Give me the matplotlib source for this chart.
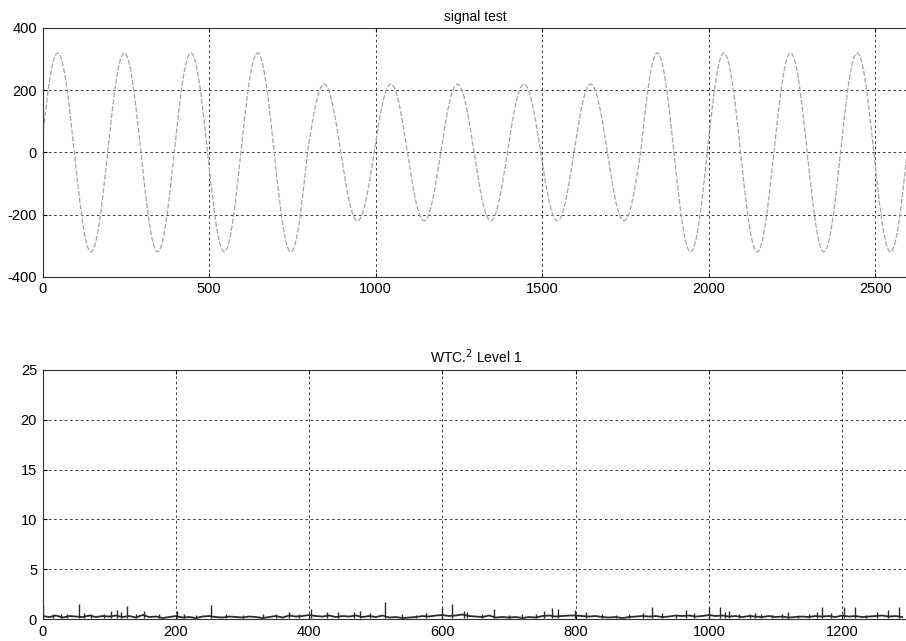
import numpy as np
import matplotlib.pyplot as plt

plt.rcParams['font.family'] = ['Liberation Sans', 'DejaVu Sans']
plt.rcParams['axes.unicode_minus'] = False

# top panel: one period (200 samples) read every 5 samples, two amplitudes
cycle_big = [50, 99, 145, 188, 226, 259, 285, 304, 316, 320,
             316, 304, 285, 259, 226, 188, 145, 99, 50, 0,
             -50, -99, -145, -188, -226, -259, -285, -304, -316, -320,
             -316, -304, -285, -259, -226, -188, -145, -99, -50, 0]
cycle_small = [34, 68, 100, 129, 156, 178, 196, 209, 217, 220,
               217, 209, 196, 178, 156, 129, 100, 68, 34, 0,
               -34, -68, -100, -129, -156, -178, -196, -209, -217, -220,
               -217, -209, -196, -178, -156, -129, -100, -68, -34, 0]
cycle_order = ['big'] * 4 + ['small'] * 5 + ['big'] * 4
signal_step = 5

# bottom panel: squared level-1 detail coefficients
wtc_step = 10
wtc_base = [
    0.3, 0.2, 0.35, 0.15, 0.3, 0.25, 0.2, 0.35, 0.2, 0.3,
    0.25, 0.35, 0.2, 0.3, 0.15, 0.4, 0.2, 0.25, 0.1, 0.2,
    0.3, 0.15, 0.2, 0.1, 0.25, 0.3, 0.2, 0.15, 0.25, 0.2,
    0.15, 0.25, 0.2, 0.1, 0.2, 0.3, 0.15, 0.35, 0.25, 0.3,
    0.4, 0.3, 0.25, 0.35, 0.2, 0.3, 0.25, 0.35, 0.2, 0.3,
    0.2, 0.35, 0.15, 0.2, 0.1, 0.15, 0.2, 0.3, 0.25, 0.35,
    0.4, 0.3, 0.35, 0.45, 0.3, 0.25, 0.2, 0.35, 0.15, 0.2,
    0.15, 0.2, 0.1, 0.2, 0.15, 0.3, 0.35, 0.25, 0.3, 0.35,
    0.35, 0.3, 0.25, 0.3, 0.2, 0.15, 0.2, 0.1, 0.2, 0.25,
    0.3, 0.25, 0.3, 0.2, 0.25, 0.35, 0.3, 0.35, 0.25, 0.3,
    0.4, 0.3, 0.35, 0.25, 0.3, 0.2, 0.3, 0.25, 0.2, 0.3,
    0.2, 0.25, 0.15, 0.2, 0.25, 0.2, 0.3, 0.25, 0.3, 0.2,
    0.35, 0.25, 0.3, 0.2, 0.25, 0.3, 0.35, 0.25, 0.3, 0.2,
]
spike_pos = [1, 15, 27, 37, 54, 62, 72, 92, 102, 112,
             118, 127, 140, 152, 175, 201, 212, 230, 252, 275,
             300, 330, 350, 369, 385, 402, 427, 443, 468, 476,
             491, 514, 540, 560, 575, 600, 614, 632, 637, 660,
             677, 700, 720, 740, 753, 764, 774, 799, 816, 840,
             860, 880, 901, 915, 929, 951, 966, 977, 1000, 1016,
             1024, 1030, 1045, 1061, 1069, 1078, 1095, 1109, 1119, 1133,
             1150, 1162, 1169, 1183, 1203, 1219, 1235, 1252, 1269, 1285]
spike_h = [1.4, 0.5, 0.55, 0.55, 1.5, 0.6, 0.55, 0.55, 0.8, 0.9,
           0.75, 1.3, 0.5, 0.8, 0.55, 0.85, 0.5, 0.45, 1.45, 0.5,
           0.45, 0.5, 0.55, 0.7, 0.5, 1.0, 0.7, 0.7, 0.7, 0.8,
           0.6, 1.7, 0.5, 0.45, 0.6, 1.1, 1.5, 0.8, 0.75, 0.5,
           1.0, 0.45, 0.5, 0.55, 0.8, 1.1, 1.0, 0.9, 0.75, 0.5,
           0.45, 0.5, 0.65, 1.25, 0.6, 0.45, 0.9, 0.6, 1.2, 1.25,
           0.75, 0.85, 0.5, 0.5, 0.65, 0.5, 0.45, 0.5, 0.75, 0.4,
           0.5, 0.75, 1.25, 0.6, 1.25, 1.2, 0.45, 0.75, 0.9, 1.2]

cycles = {'big': cycle_big, 'small': cycle_small}
signal = np.concatenate([cycles[c] for c in cycle_order])
sig_x = np.arange(len(signal)) * signal_step
wtc_x = np.arange(len(wtc_base)) * wtc_step

fig = plt.figure(figsize=(9.06, 6.41), dpi=100)
ax1 = fig.add_axes([0.0471, 0.568, 0.956, 0.3885])
ax2 = fig.add_axes([0.0471, 0.0343, 0.956, 0.3885])

grid_kw = dict(color='#333333', linestyle=(0, (2.5, 3)), linewidth=0.7)

ax1.plot(sig_x, signal, color='#a5a5a5', linewidth=0.9,
         linestyle=(0, (4, 1.5)))
ax1.set_xlim(0, 2600)
ax1.set_ylim(-400, 400)
ax1.set_xticks([0, 500, 1000, 1500, 2000, 2500])
ax1.set_yticks([-400, -200, 0, 200, 400])
ax1.set_title('signal test', fontsize=10, pad=5)

ax2.plot(wtc_x, wtc_base, color='#2a2a2a', linewidth=1.3)
ax2.vlines(spike_pos, 0.1, spike_h, color='#2a2a2a', linewidth=1.0)
ax2.set_xlim(0, 1300)
ax2.set_ylim(0, 25)
ax2.set_xticks([0, 200, 400, 600, 800, 1000, 1200])
ax2.set_yticks([0, 5, 10, 15, 20, 25])
ax2.set_title('WTC.$^2$ Level 1', fontsize=10, pad=5)

for ax in (ax1, ax2):
    ax.grid(True, **grid_kw)
    ax.tick_params(direction='in', length=3, labelsize=10.5, pad=4,
                   top=True, right=True)
    for s in ax.spines.values():
        s.set_linewidth(0.8)
        s.set_color('#333333')

fig.savefig('out.png', dpi=100)
